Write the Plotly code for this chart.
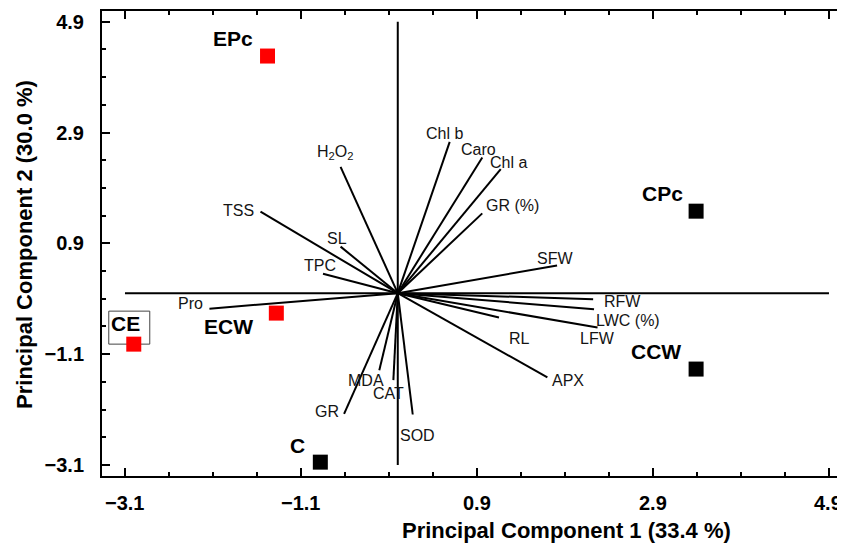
import plotly.graph_objects as go

# ---------------- data ----------------
samples = ["EPc", "CPc", "CCW", "ECW", "CE", "C"]
groups = ["E", "C", "C", "E", "E", "C"]
pc1 = [-1.48, 3.39, 3.39, -1.38, -3.00, -0.88]
pc2 = [4.28, 1.48, -1.37, -0.36, -0.92, -3.05]

variables = ["H<sub>2</sub>O<sub>2</sub>", "TSS", "SL", "TPC", "Pro", "MDA", "CAT",
             "GR", "SOD", "Chl b", "Caro", "Chl a", "GR (%)", "SFW", "RFW",
             "LWC (%)", "LFW", "RL", "APX"]
load1 = [-0.65, -1.56, -0.65, -0.85, -2.14, -0.21, -0.05, -0.61, 0.17, 0.59,
         0.96, 1.17, 0.96, 1.81, 2.22, 2.23, 2.27, 1.15, 1.70]
load2 = [2.28, 1.47, 0.84, 0.35, -0.28, -1.39, -1.57, -2.18, -2.19, 2.73,
         2.45, 2.24, 1.44, 0.50, -0.11, -0.29, -0.62, -0.44, -1.52]

tick_vals = [-3.1, -1.1, 0.9, 2.9, 4.9]
tick_text = ["\u22123.1", "\u22121.1", "0.9", "2.9", "4.9"]
x_title = "Principal Component 1 (33.4 %)"
y_title = "Principal Component 2 (30.0 %)"

# ---------------- styles / placement ----------------
group_color = {"E": "#ff0000", "C": "#000000"}
# label offsets (px): dx right, dy down
var_offsets = [(-6, -14), (-22, -1), (-4, -8), (-3, -8), (-19, -5), (-13, 10),
               (-5, 13), (-17, -2), (5, 21), (-5, -8), (-4, -8), (8, -7),
               (30, -8), (-2, -7), (29, 2), (34, 11), (0, 11), (21, 21), (21, 3)]
sample_offsets = {"EPc": (-35, -18), "CPc": (-34, -18), "CCW": (-40, -18),
                  "ECW": (-48, 13), "CE": (-8, -21), "C": (-23, -17)}
tick_font = dict(family="Liberation Sans", size=20, color="black", weight="bold")

fig = go.Figure()

# axis cross lines through origin
fig.add_trace(go.Scatter(
    x=[tick_vals[0], tick_vals[-1], None, 0, 0],
    y=[0, 0, None, tick_vals[0], tick_vals[-1]],
    mode="lines", line=dict(color="black", width=2), hoverinfo="skip"))

# loading vectors
vx, vy = [], []
for a, b in zip(load1, load2):
    vx += [0, a, None]
    vy += [0, b, None]
fig.add_trace(go.Scatter(x=vx, y=vy, mode="lines",
                         line=dict(color="black", width=2), hoverinfo="skip"))

# sample scores
fig.add_trace(go.Scatter(
    x=pc1, y=pc2, mode="markers",
    marker=dict(symbol="square", size=15, color=[group_color[g] for g in groups],
                line=dict(width=0)),
    text=samples))

annotations = []
for name, a, b, (dx, dy) in zip(variables, load1, load2, var_offsets):
    annotations.append(dict(x=a, y=b, xref="x", yref="y", text=name, showarrow=False,
                            xanchor="center", yanchor="middle", xshift=dx, yshift=-dy,
                            font=dict(family="Liberation Sans", size=16, color="#141414")))
for name, a, b in zip(samples, pc1, pc2):
    dx, dy = sample_offsets[name]
    annotations.append(dict(x=a, y=b, xref="x", yref="y", text=name, showarrow=False,
                            xanchor="center", yanchor="middle", xshift=dx, yshift=-dy,
                            font=dict(family="Liberation Sans", size=21, color="black",
                                      weight="bold")))

# x tick labels (last one kept inside the page edge)
for i, (tv, tt) in enumerate(zip(tick_vals, tick_text)):
    last = i == len(tick_vals) - 1
    annotations.append(dict(x=tv, y=-0.058, xref="x", yref="paper", text=tt,
                            showarrow=False, yanchor="middle",
                            xanchor="right" if last else "center",
                            xshift=15 if last else 0, font=tick_font))

annotations.append(dict(x=0.6245, y=-0.118, xref="paper", yref="paper", text=x_title,
                        showarrow=False, xanchor="center", yanchor="middle",
                        font=dict(family="Liberation Sans", size=22, color="black",
                                  weight="bold")))
annotations.append(dict(x=-0.1036, y=0.497, xref="paper", yref="paper", text=y_title,
                        showarrow=False, xanchor="center", yanchor="middle", textangle=-90,
                        font=dict(family="Liberation Sans", size=22, color="black",
                                  weight="bold")))

# box around CE label, anchored to the CE score
ce = samples.index("CE")
shapes = [dict(type="rect", xref="x", yref="y", xsizemode="pixel", ysizemode="pixel",
               xanchor=pc1[ce], yanchor=pc2[ce], x0=-25, x1=16, y0=0, y1=33,
               line=dict(color="#444444", width=1), layer="below")]

axis_common = dict(
    tickvals=tick_vals, ticktext=tick_text, ticks="inside", ticklen=8, tickwidth=2,
    tickcolor="black", showline=True, linewidth=2, linecolor="black", mirror="allticks",
    showgrid=False, zeroline=False, automargin=False,
    minor=dict(dtick=0.5, tick0=-3.1, ticks="inside", ticklen=4, tickwidth=2,
               tickcolor="black", showgrid=False),
    tickfont=tick_font,
)

# page body has an 8px margin, so the figure is 8px smaller and shifted
fig.update_layout(
    width=837, height=538,
    margin=dict(l=94, r=0, t=3, b=70),
    plot_bgcolor="white", paper_bgcolor="white", showlegend=False,
    xaxis=dict(range=[-3.361, 5.082], showticklabels=False, **axis_common),
    yaxis=dict(range=[-3.300, 5.093], ticklabelstandoff=12, **axis_common),
    annotations=annotations, shapes=shapes,
)

fig.write_html("out.html")
